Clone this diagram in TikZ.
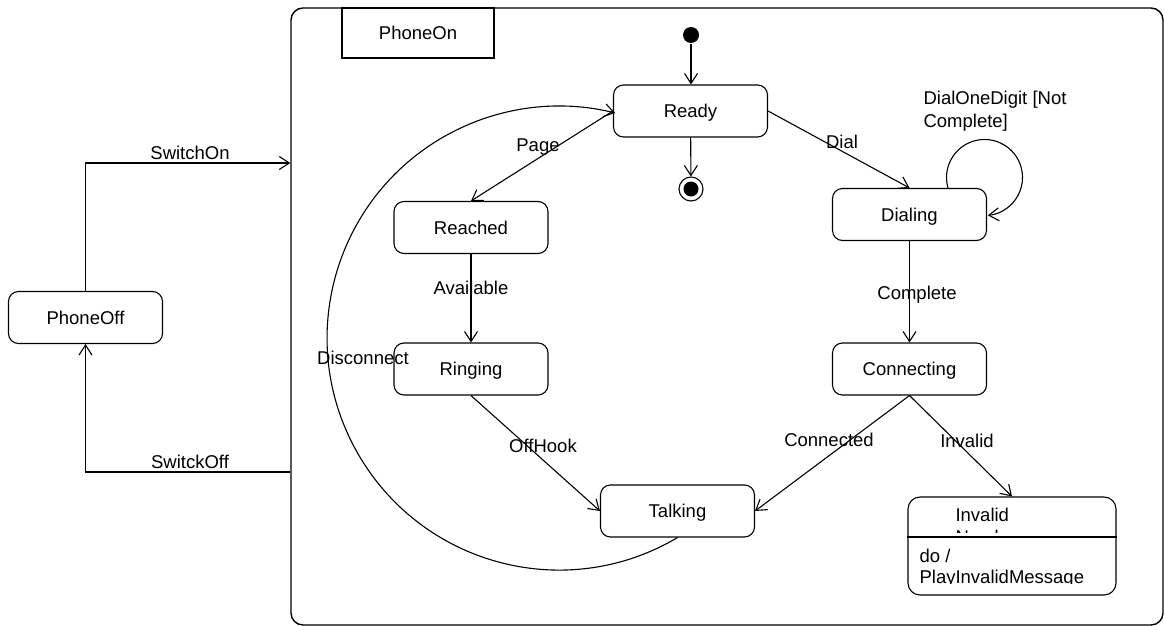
\documentclass[tikz,border=0pt]{standalone}
\usepackage{fontspec}
\setmainfont{Liberation Sans}
\usetikzlibrary{arrows.meta}
\begin{document}
\begin{tikzpicture}[x=1pt,y=1pt,line width=1.1pt,
  every node/.style={font=\fontsize{18.5}{22}\selectfont},
  lbl/.style={inner sep=0pt,text height=13.2pt,text depth=0pt},
  state/.style={draw,rounded corners=10pt,minimum width=154pt,minimum height=52pt,
    inner sep=0pt,text height=13.2pt,text depth=0pt},
  trans/.style={-{Straight Barb[length=10pt,width=13pt]}}]
\useasboundingbox (0,0) rectangle (1164,-626);

% composite state
\node[draw,rounded corners=12pt,minimum width=872pt,minimum height=617pt,
  inner sep=0pt,line width=1.4pt] (phoneon) at (727,-316.5) {};
\node[draw,minimum width=152pt,minimum height=50pt,inner sep=0pt,
  text height=13.2pt,text depth=0pt] (phoneontitle) at (418,-33) {PhoneOn};

% states
\node[state] (phoneoff)   at (85.5,-317.5) {PhoneOff};
\node[state] (ready)      at (690.5,-111) {Ready};
\node[state] (reached)    at (471,-227.5) {Reached};
\node[state] (ringing)    at (471,-369) {Ringing};
\node[state] (talking)    at (677.5,-511) {Talking};
\node[state] (dialing)    at (909.5,-214.5) {Dialing};
\node[state] (connecting) at (909.5,-369) {Connecting};

% initial and final pseudo-states
\node[circle,fill,minimum size=16pt,inner sep=0pt] (init) at (691,-35) {};
\node[circle,draw,minimum size=24pt,inner sep=0pt] (final) at (691,-189) {};
\node[circle,fill,minimum size=15pt,inner sep=0pt] (finaldot) at (final) {};

% state with a do-activity compartment
\node[draw,rounded corners=12pt,minimum width=208pt,minimum height=98pt,inner sep=0pt]
  (invalid) at (1012,-546) {};
\coordinate (divy) at (0,-537);
\draw (invalid.west |- divy) -- (invalid.east |- divy);
\begin{scope}
  \clip (908,-497) rectangle (1116,-532);
  \node[anchor=base west,inner sep=0pt] (invt1) at (955,-521.6) {Invalid};
  \node[anchor=base west,inner sep=0pt] (invt2) at (955,-543.6) {Number};
\end{scope}
\begin{scope}
  \clip (908,-537) rectangle (1116,-583);
  \node[anchor=base west,inner sep=0pt] (invt3) at (919,-562.6) {do /};
  \node[anchor=base west,inner sep=0pt] (invt4) at (919,-583.6) {PlayInvalidMessage};
\end{scope}

% switching on and off
\coordinate (yon) at (0,-163);
\coordinate (yoff) at (0,-472);
\draw[trans] (phoneoff.north) |- (phoneon.west |- yon);
\draw[trans] (phoneon.west |- yoff) -| (phoneoff.south);
\node[lbl] (lswon) at (190,-153) {SwitchOn};
\node[lbl] (lswoff) at (190,-462) {SwitckOff};

% transitions inside PhoneOn
\draw[trans] (init.south) -- (init.south |- ready.north);
\draw[trans] (ready) -- (final);
\draw[trans] (ready.west) -- (reached.north);
\draw[trans] (ready.east) -- (dialing.north);
\draw[trans] (reached.south) -- (ringing.north);
\draw[trans] (ringing.south) -- (talking.west);
\draw[trans] (dialing.south) -- (connecting.north);
\draw[trans] (connecting.south) -- (talking.east);
\draw[trans] (connecting.south) -- (invalid.north);
\draw[trans] ([xshift=38.5pt]dialing.north) arc[start angle=196,end angle=-85,radius=38pt];
\draw[trans] (talking.south) arc[start angle=-59.3,end angle=-284,radius=232pt];

% transition labels
\node[lbl] (lpage) at (538,-145) {Page};
\node[lbl] (ldial) at (842,-142) {Dial};
\node[lbl] (lavail) at (471,-288) {Available};
\node[lbl] (lcomplete) at (917,-293) {Complete};
\node[lbl] (ldisc) at (363,-358) {Disconnect};
\node[lbl] (loffhook) at (543,-446) {OffHook};
\node[lbl] (lconnected) at (829,-440) {Connected};
\node[lbl] (linvalid) at (967,-441) {Invalid};
\node[lbl,anchor=west] (ldigit1) at (923,-98) {DialOneDigit [Not};
\node[lbl,anchor=west] (ldigit2) at (923,-121) {Complete]};
\end{tikzpicture}
\end{document}
